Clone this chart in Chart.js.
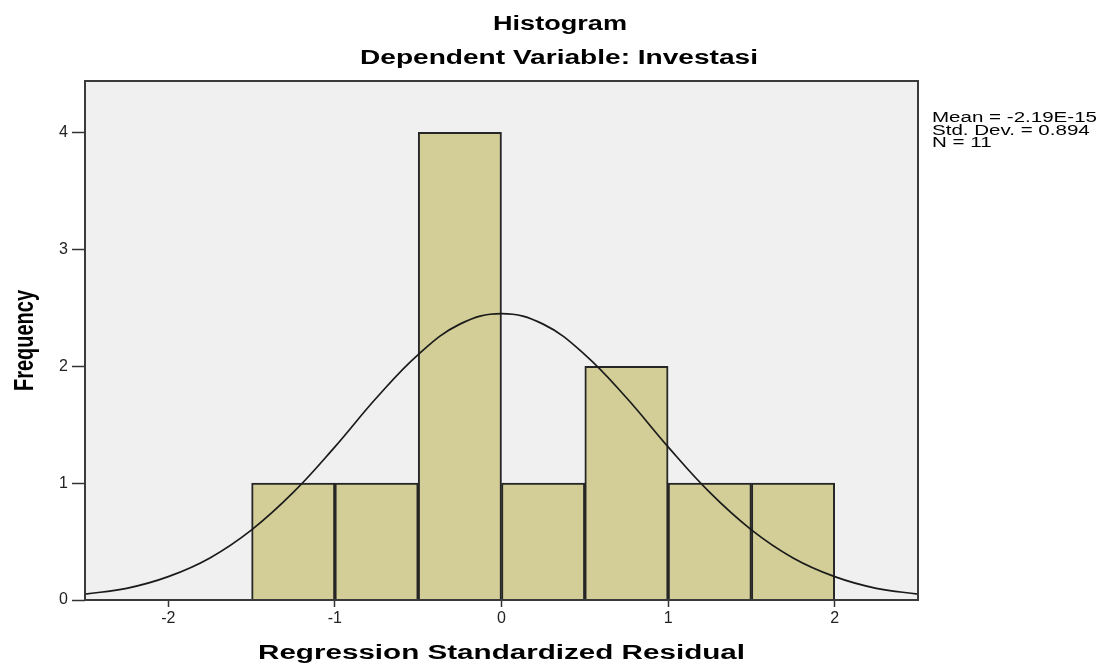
<!DOCTYPE html>
<html>
<head>
<meta charset="utf-8">
<title>Histogram</title>
<script src="https://cdn.jsdelivr.net/npm/chart.js@4"></script>
<style>
  body { margin: 0; background: #fff; }
  #wrap { width: 1113px; height: 668px; }
</style>
</head>
<body>
<div id="wrap"><canvas id="histChart" width="1113" height="668"></canvas></div>
<script>
// Histogram bins (centre of each 0.5 wide bin) and counts
const binCenters = [-1.25, -0.75, -0.25, 0.25, 0.75, 1.25, 1.75];
const frequencies = [1, 1, 4, 1, 2, 1, 1];

// Normal curve
const curveX = [-2.5, -2.25, -2, -1.75, -1.5, -1.25, -1, -0.75, -0.5, -0.25, 0,
                0.25, 0.5, 0.75, 1, 1.25, 1.5, 1.75, 2, 2.25, 2.5];
const curveY = [0.05, 0.10, 0.20, 0.36, 0.60, 0.92, 1.31, 1.73, 2.10, 2.36, 2.45,
                2.36, 2.10, 1.73, 1.31, 0.92, 0.60, 0.36, 0.20, 0.10, 0.05];

// Tick labels
const xTicks = [-2, -1, 0, 1, 2];
const yTicks = [0, 1, 2, 3, 4];

// Texts
const titleLines = ["Histogram", "Dependent Variable: Investasi"];
const xTitle = "Regression Standardized Residual";
const yTitle = "Frequency";
const statsLines = ["Mean = -2.19E-15", "Std. Dev. = 0.894", "N = 11"];

// draws text squeezed/stretched horizontally to a given width
function wideText(ctx, text, x, y, font, width, align) {
    ctx.save();
    ctx.font = font;
    const sx = width / ctx.measureText(text).width;
    ctx.translate(x, y);
    ctx.scale(sx, 1);
    ctx.textAlign = align;
    ctx.textBaseline = "alphabetic";
    ctx.fillStyle = "#000";
    ctx.fillText(text, 0, 0);
    ctx.restore();
}

const boldFont = 'bold 20px "Liberation Sans", Arial, sans-serif';
const statFont = '14px "Liberation Sans", Arial, sans-serif';
const tickFont = { size: 16, family: '"Liberation Sans", Arial, sans-serif' };

const frame = {
    id: "frame",
    beforeDatasetsDraw(chart) {
        const a = chart.chartArea, ctx = chart.ctx;
        ctx.save();
        ctx.fillStyle = "#f0f0f0";
        ctx.fillRect(a.left, a.top, a.right - a.left, a.bottom - a.top);
        ctx.restore();
    },
    afterDatasetsDraw(chart) {
        const a = chart.chartArea, ctx = chart.ctx;
        ctx.save();
        ctx.strokeStyle = "#3a3a3a";
        ctx.lineWidth = 2;
        ctx.strokeRect(a.left, a.top, a.right - a.left, a.bottom - a.top);
        ctx.restore();
    },
    afterDraw(chart) {
        const ctx = chart.ctx, a = chart.chartArea;
        const mid = (a.left + a.right) / 2;

        // titles, centred on the whole picture
        wideText(ctx, titleLines[0], 560, 30, boldFont, 134, "center");
        wideText(ctx, titleLines[1], 559, 64, boldFont, 398, "center");

        // x axis title
        wideText(ctx, xTitle, mid, 659, boldFont, 487, "center");

        // y axis title, rotated
        ctx.save();
        ctx.font = boldFont;
        ctx.translate(33, (a.top + a.bottom) / 2);
        ctx.rotate(-Math.PI / 2);
        ctx.scale(1, 1.35);
        ctx.textAlign = "center";
        ctx.textBaseline = "alphabetic";
        ctx.fillStyle = "#000";
        ctx.fillText(yTitle, 0, 0);
        ctx.restore();

        // stats box on the right
        ctx.save();
        ctx.font = statFont;
        const sx = 165 / ctx.measureText(statsLines[0]).width;
        ctx.restore();
        statsLines.forEach(function (line, i) {
            ctx.save();
            ctx.font = statFont;
            ctx.translate(932, 122 + i * 12.5);
            ctx.scale(sx, 1);
            ctx.textAlign = "left";
            ctx.fillStyle = "#000";
            ctx.fillText(line, 0, 0);
            ctx.restore();
        });
    }
};

const histChart = new Chart(document.getElementById("histChart"), {
    type: "bar",
    data: {
        datasets: [{
            type: "line",
            data: curveX.map((x, i) => ({ x: x, y: curveY[i] })),
            borderColor: "#1a1a1a",
            borderWidth: 1.7,
            pointRadius: 0,
            tension: 0.4,
            fill: false,
            order: 0
        }, {
            type: "bar",
            data: binCenters.map((x, i) => ({ x: x, y: frequencies[i] })),
            backgroundColor: "#d3ce97",
            borderColor: "#262626",
            borderWidth: 2,
            barPercentage: 1,
            categoryPercentage: 1,
            order: 1
        }]
    },
    options: {
        responsive: false,
        animation: false,
        layout: { padding: { top: 81, right: 195, left: 0, bottom: 0 } },
        plugins: {
            legend: { display: false },
            title: { display: false },
            tooltip: { enabled: false }
        },
        scales: {
            x: {
                type: "linear",
                min: -2.5,
                max: 2.5,
                offset: false,
                afterBuildTicks: s => { s.ticks = xTicks.map(v => ({ value: v })); },
                afterFit: s => { s.height = 68; },
                border: { display: false },
                grid: { offset: false, drawOnChartArea: false, drawTicks: true, tickLength: 7, tickColor: "#333", tickWidth: 1.5 },
                ticks: { color: "#222", padding: 2, font: tickFont }
            },
            y: {
                min: 0,
                max: 4.44,
                afterBuildTicks: s => { s.ticks = yTicks.map(v => ({ value: v })); },
                afterFit: s => { s.width = 85; },
                border: { display: false },
                grid: { drawOnChartArea: false, drawTicks: true, tickLength: 13, tickColor: "#333", tickWidth: 1.5 },
                ticks: { color: "#222", padding: 4, font: tickFont }
            }
        }
    },
    plugins: [frame]
});
</script>
</body>
</html>
